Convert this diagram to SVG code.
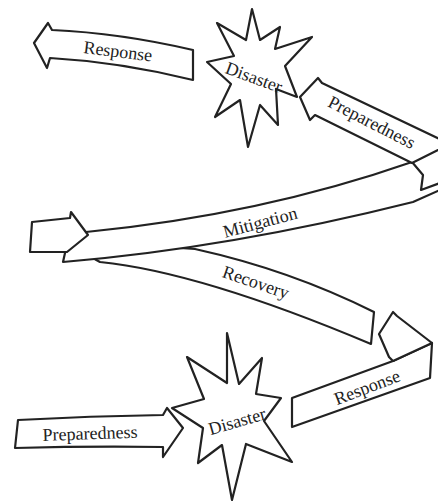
<svg xmlns="http://www.w3.org/2000/svg" width="438" height="502" viewBox="0 0 438 502">
<style>
.s{fill:#fff;stroke:#222;stroke-width:2.2;stroke-linejoin:round;stroke-linecap:round}
.l{fill:none;stroke:#222;stroke-width:2.2;stroke-linejoin:round;stroke-linecap:round}
.f{fill:#fff;stroke:none}
.t{font-family:"Liberation Serif","Times New Roman",serif;font-size:18px;fill:#222;text-anchor:middle}
</style>
<rect width="438" height="502" fill="#fff"/>
<g id="connectors"></g>

<g id="recovery">
  <path class="s" d="M60,240 L195,249 Q290,270 374,312 L371,344 Q200,272 100,262 Z"/>
  <text class="t" transform="translate(256,282) rotate(19)" dy="0.35em">Recovery</text>
</g>

<g id="mitigation">
  <path class="f" d="M80,232 Q260,215 412,162 L423,175 L421,190 L413,202 Q230,248 63,262 L65,252 Z"/>
  <path class="s" d="M32,222 L70,218 L71,212 L88,235 L67,252 L30,252 Z"/>
  <path class="l" d="M86,232 Q260,215 412,162 L423,175 L421,190 L440,183"/>
  <path class="l" d="M65,253 L63,262 Q230,248 413,202 L440,190"/>
  <text class="t" transform="translate(260,222) rotate(-15)" dy="0.35em">Mitigation</text>
</g>

<g id="response-top">
  <path class="s" d="M34,43 L48,23 L52,30 Q120,33 193,50 L193,80 Q120,62 50,58 L47,68 Z"/>
  <text class="t" transform="translate(118,51) rotate(7)" dy="0.35em">Response</text>
</g>

<g id="disaster-top">
  <path class="s" d="M252,9 L260,40 L280,27 L275,49 L312,37 L285,66 L297,97 L276,89 L278,125 L260,105 L248,147 L240,100 L215,117 L231,84 L207,62 L234,56 L217,23 L246,40 Z"/>
  <text class="t" transform="translate(254,77) rotate(20)" dy="0.35em">Disaster</text>
</g>

<g id="preparedness-top">
  <path class="s" d="M300,97 L318,78 L322,83 L450,144 L412,163 L315,115 L310,120 Z"/>
  <text class="t" transform="translate(372,122) rotate(27)" dy="0.35em">Preparedness</text>
</g>

<g id="preparedness-bottom">
  <path class="s" d="M18,420 Q90,416 163,415 L167,408 L183,428 L163,457 L163,447 Q90,446 15,448 Z"/>
  <text class="t" transform="translate(90,433) rotate(-2)" dy="0.35em">Preparedness</text>
</g>

<g id="disaster-bottom">
  <path class="s" d="M227,333 L239,384 L262,358 L256,394 L281,398 L264,421 L292,462 L246,444 L232,500 L222,445 L198,463 L203,428 L172,408 L204,399 L187,357 L227,383 Z"/>
  <text class="t" transform="translate(237,421) rotate(-16)" dy="0.35em">Disaster</text>
</g>

<g id="response-bottom">
  <path class="s" d="M292,398 L393,361 L432,343 L430,378 L292,427 Z"/>
  <path class="s" d="M432,343 L397,316 L393,312 L379,334 L389,357 L393,361 Z"/>
  <text class="t" transform="translate(367,387) rotate(-21)" dy="0.35em">Response</text>
</g>
</svg>
